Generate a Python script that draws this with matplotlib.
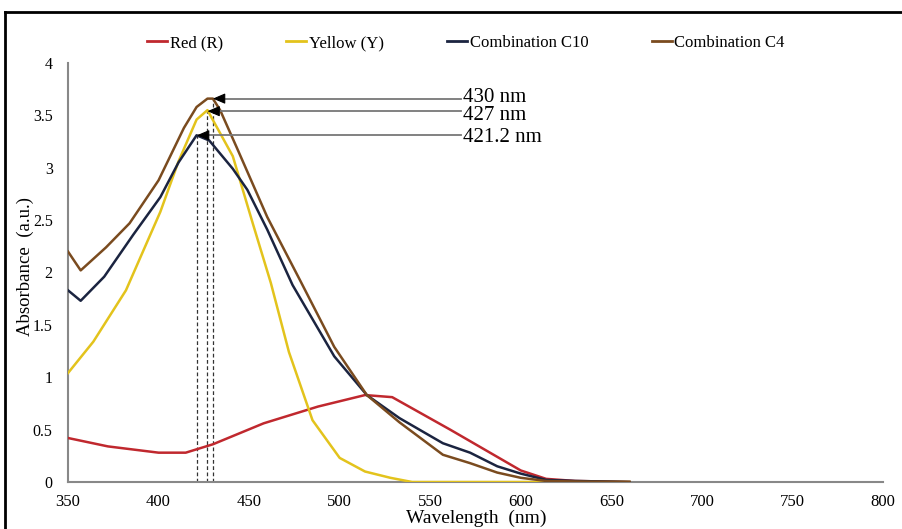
import matplotlib
matplotlib.use("Agg")
import matplotlib.pyplot as plt
from matplotlib.lines import Line2D
from matplotlib.ticker import FuncFormatter

# ── Dados ──────────────────────────────────────────────────────────────────────
wl_red = [350, 372, 400, 415, 430, 458, 488, 514, 529, 561, 600, 614, 630, 660]
abs_red = [0.42, 0.34, 0.28, 0.28, 0.36, 0.56, 0.72, 0.83, 0.81, 0.50, 0.11, 0.03, 0.01, 0.0]

wl_yellow = [350, 364, 382, 401, 411, 421, 427, 441, 452, 462, 472, 485, 500, 514, 528, 540, 660]
abs_yellow = [1.04, 1.34, 1.83, 2.58, 3.06, 3.46, 3.55, 3.11, 2.47, 1.90, 1.24, 0.59, 0.23, 0.10, 0.04, 0.0, 0.0]

wl_c10 = [350, 357, 370, 386, 401, 411, 421, 428, 441, 449, 460, 474, 497, 515, 533, 557, 572, 587, 600, 614, 630, 660]
abs_c10 = [1.83, 1.73, 1.96, 2.36, 2.72, 3.05, 3.31, 3.26, 2.99, 2.79, 2.41, 1.88, 1.20, 0.83, 0.61, 0.37, 0.28, 0.15, 0.08, 0.02, 0.01, 0.0]

wl_c4 = [350, 357, 371, 384, 400, 414, 421, 427, 430, 434, 443, 460, 478, 497, 515, 533, 557, 572, 587, 600, 614, 630, 660]
abs_c4 = [2.20, 2.02, 2.24, 2.47, 2.88, 3.38, 3.58, 3.66, 3.66, 3.55, 3.20, 2.53, 1.93, 1.29, 0.83, 0.57, 0.26, 0.18, 0.09, 0.04, 0.01, 0.005, 0.0]

series_labels = ["Red (R)", "Yellow (Y)", "Combination C10", "Combination C4"]
series_colors = ["#C0282E", "#E3C31C", "#1B2440", "#7A4B1F"]

peak_wl = [430, 427, 421.2]
peak_abs = [3.66, 3.54, 3.31]
peak_labels = ["430 nm", "427 nm", "421.2 nm"]
label_wl = 567
label_abs = [3.67, 3.50, 3.29]

plt.rcParams["font.family"] = ["Liberation Serif", "DejaVu Serif"]

fig = plt.figure(figsize=(9.02, 5.29), dpi=100)
ax = fig.add_axes([68 / 902, 1 - 482 / 529, (883 - 68) / 902, (482 - 63) / 529])

dados = [(wl_red, abs_red), (wl_yellow, abs_yellow), (wl_c10, abs_c10), (wl_c4, abs_c4)]
for (wl, ab), lab, cor in zip(dados, series_labels, series_colors):
    ax.plot(wl, ab, color=cor, linewidth=1.8, label=lab, zorder=3)

# linhas tracejadas e setas dos picos
for pw, pa, txt, ty in zip(peak_wl, peak_abs, peak_labels, label_abs):
    ax.plot([pw, pw], [0, pa], color="#333333", linestyle=(0, (3, 2)), linewidth=0.9, zorder=2)
    ax.plot([pw + 4, label_wl], [pa, pa], color="#777777", linewidth=1.3, zorder=4)
    ax.annotate("", xy=(pw, pa), xytext=(pw + 6, pa),
                arrowprops=dict(arrowstyle="-|>,head_length=0.75,head_width=0.32",
                                color="black", linewidth=0.8,
                                shrinkA=0, shrinkB=0), zorder=5)
    ax.text(label_wl + 1, ty, txt, fontsize=15, va="center", ha="left")

ax.set_xlim(350, 800)
ax.set_ylim(0, 4)
ax.set_xticks(range(350, 801, 50))
ax.set_yticks([0, 0.5, 1, 1.5, 2, 2.5, 3, 3.5, 4])
ax.yaxis.set_major_formatter(FuncFormatter(lambda v, p: f"{v:g}"))
ax.tick_params(length=0, labelsize=12, pad=9)
ax.tick_params(axis="y", labelsize=11.5, pad=11)
for lado in ["top", "right"]:
    ax.spines[lado].set_visible(False)
for lado in ["left", "bottom"]:
    ax.spines[lado].set_color("#888888")
    ax.spines[lado].set_linewidth(1.5)

fig.text(25 / 902, 1 - 267 / 529, "Absorbance  (a.u.)", rotation=90,
         fontsize=13.5, ha="center", va="center")
fig.text(476 / 902, 1 - 510 / 529, "Wavelength  (nm)", fontsize=14, ha="center", va="top")

handles = [Line2D([], [], color=c, linewidth=2) for c in series_colors]
fig.legend(handles, series_labels, loc="center", bbox_to_anchor=(466 / 902, 1 - 43 / 529),
           ncol=4, frameon=False, fontsize=12, handlelength=1.2, handletextpad=0.15,
           columnspacing=3.8)

# moldura externa (cortada à direita e embaixo)
fig.add_artist(Line2D([5 / 902, 1], [1 - 12 / 529] * 2, color="black", linewidth=2,
                      transform=fig.transFigure))
fig.add_artist(Line2D([5 / 902] * 2, [0, 1 - 12 / 529], color="black", linewidth=2,
                      transform=fig.transFigure))

plt.savefig("out.png", dpi=100)
plt.close()
